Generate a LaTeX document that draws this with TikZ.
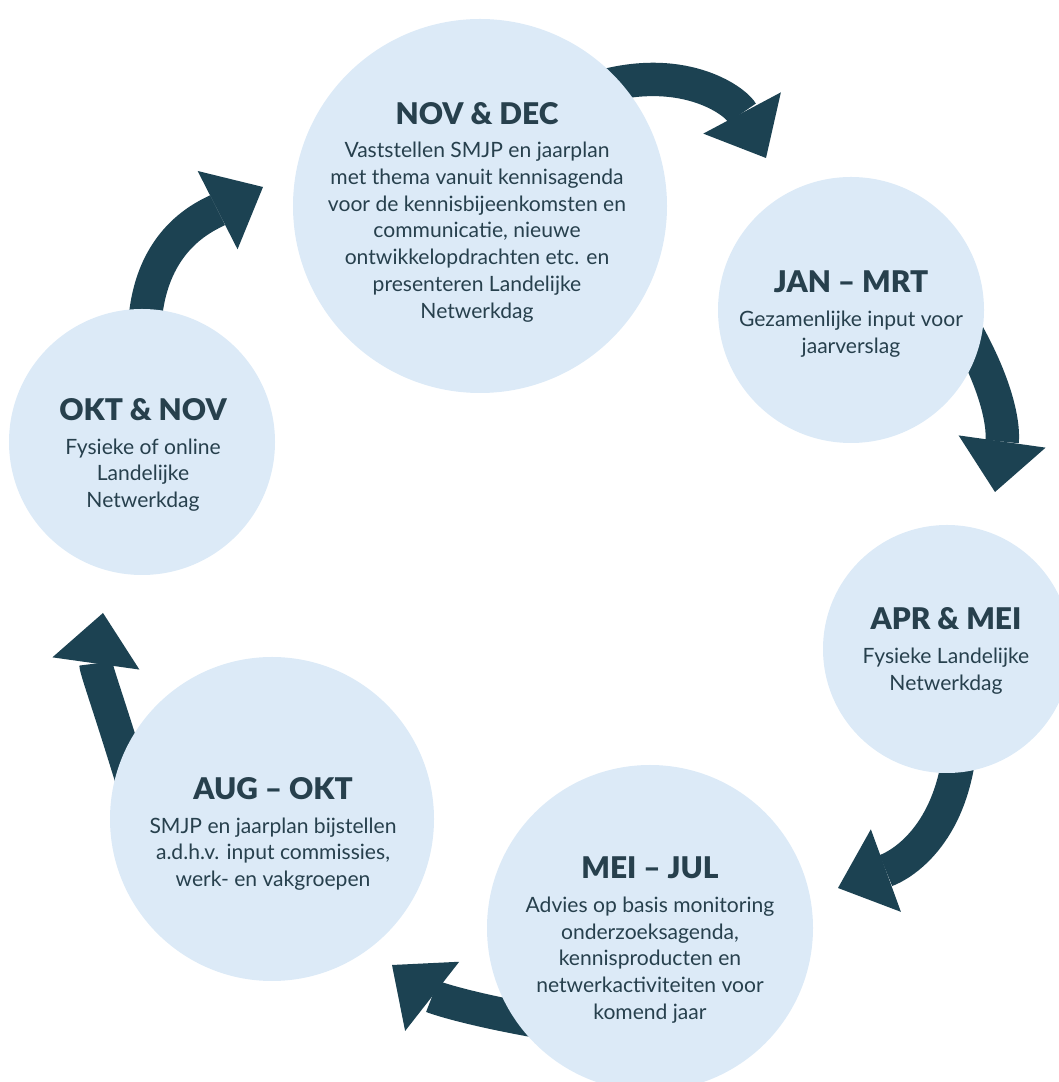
\documentclass[tikz,border=0pt]{standalone}
\usepackage{fontspec}
\setmainfont{Lato}[BoldFont={Lato Black}]
\usetikzlibrary{arrows.meta,backgrounds}
\definecolor{discblue}{HTML}{DCEAF7}
\definecolor{arrowteal}{HTML}{1C4252}
\definecolor{textslate}{HTML}{27404D}
\newcommand{\phasetext}[2]{{\fontsize{17}{20}\selectfont\bfseries #1}\\[4pt]#2}

\begin{document}
\begin{tikzpicture}[x=0.2mm, y=0.2mm,
	disc/.style={circle, fill=discblue, inner sep=0},
	phase/.style={align=center, text=textslate, font=\fontsize{12}{15.2}\selectfont},
	band/.style={draw=arrowteal, line width=19pt, shorten <=-6mm, -{Triangle[length=29pt, width=50pt, line width=0pt]}}]
	% Circles, texts and arrows:
	\useasboundingbox (0,0) rectangle (1059,1082);
	\node[disc, minimum size=74.8mm](Circle1) at (480, 876){} node[phase] at (477, 870){\phasetext{NOV \& DEC}{Vaststellen SMJP en jaarplan\\met thema vanuit kennisagenda\\voor de kennisbijeenkomsten en\\communicatie, nieuwe\\ontwikkelopdrachten etc. en\\presenteren Landelijke\\Netwerkdag}};
	\node[disc, minimum size=53.2mm](Circle2) at (851, 772){} node[phase] at (851, 768){\phasetext{JAN -- MRT}{Gezamenlijke input voor\\jaarverslag}};
	\node[disc, minimum size=49.6mm](Circle3) at (947, 433){} node[phase] at (946, 431){\phasetext{APR \& MEI}{Fysieke Landelijke\\Netwerkdag}};
	\node[disc, minimum size=65.2mm](Circle4) at (650, 154){} node[phase] at (650, 142){\phasetext{MEI -- JUL}{Advies op basis monitoring\\onderzoeksagenda,\\kennisproducten en\\netwerkactiviteiten voor\\komend jaar}};
	\node[disc, minimum size=64.8mm](Circle5) at (272, 263){} node[phase] at (273, 248){\phasetext{AUG -- OKT}{SMJP en jaarplan bijstellen\\a.d.h.v. input commissies,\\werk- en vakgroepen}};
	\node[disc, minimum size=53.2mm](Circle6) at (142, 640){} node[phase] at (143, 627){\phasetext{OKT \& NOV}{Fysieke of online\\Landelijke\\Netwerkdag}};
	\coordinate (Tip1) at (766, 924);
	\coordinate (Tip2) at (995, 590);
	\coordinate (Tip3) at (838, 194);
	\coordinate (Tip4) at (392, 117);
	\coordinate (Tip5) at (103, 469);
	\coordinate (Tip6) at (263, 895);
	\begin{scope}[on background layer]
		\draw[band] (Circle1.42) to[out=18, in=118] (Tip1);
		\draw[band] (Circle2.342) to[out=-60, in=82] (Tip2);
		\draw[band] (Circle3.275) to[out=-95, in=20] (Tip3);
		\draw[band] (Circle4.213) to[out=170, in=-38] (Tip4);
		\draw[band] (Circle5.156) to[out=107, in=-98] (Tip5);
		\draw[band] (Circle6.89) to[out=90, in=-153] (Tip6);
	\end{scope}
\end{tikzpicture}
\end{document}
